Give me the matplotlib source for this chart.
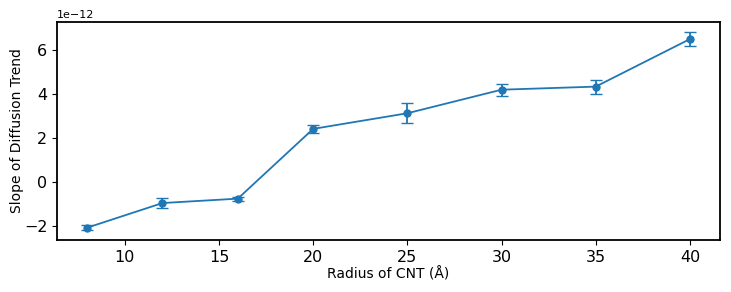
import numpy as np
import matplotlib
matplotlib.use('Agg')
import matplotlib.pyplot as plt

# radius of CNT (Å) vs slope of diffusion trend
radius = [8, 12, 16, 20, 25, 30, 35, 40]
slope = np.array([-2.06, -0.94, -0.74, 2.43, 3.14, 4.21, 4.35, 6.51]) * 1e-12
slope_err = np.array([0.11, 0.24, 0.09, 0.19, 0.46, 0.28, 0.32, 0.33]) * 1e-12

fig, ax = plt.subplots(figsize=(7.31, 2.92), dpi=100)
ax.errorbar(radius, slope, yerr=slope_err, fmt='-o', color='#1f77b4',
            markersize=5, capsize=4, linewidth=1.3)

ax.set_xlabel('Radius of CNT (Å)', fontsize=10, labelpad=2)
ax.set_ylabel('Slope of Diffusion Trend', fontsize=10)
ax.yaxis.set_label_coords(-0.05, 0.5)
ax.tick_params(labelsize=11.5)
ax.yaxis.get_offset_text().set_fontsize(8)
for s in ax.spines.values():
    s.set_linewidth(1.3)

fig.subplots_adjust(left=0.078, right=0.985, top=0.925, bottom=0.178)
fig.savefig('out.png', dpi=100)
